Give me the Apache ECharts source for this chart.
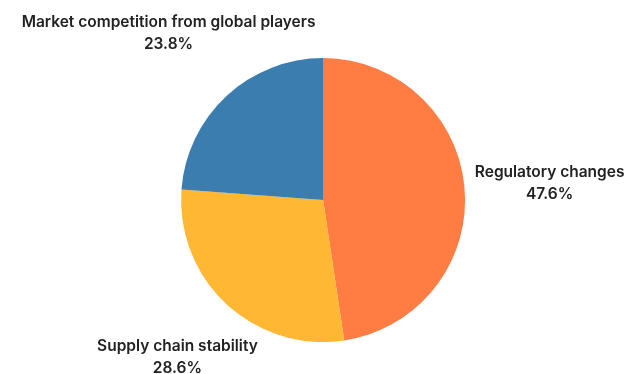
<!DOCTYPE html>
<html lang="en">
<head>
  <meta charset="UTF-8">
  <title>Risk factors</title>
  <script src="https://cdn.jsdelivr.net/npm/echarts@6/dist/echarts.min.js"></script>
  <style>
    html, body { margin: 0; padding: 0; background: #fff; }
  </style>
</head>
<body>
  <div id="main" style="width: 631px; height: 374px"></div>
  <script>
    // data
    const categories = ['Regulatory changes', 'Supply chain stability', 'Market competition from global players']
    const values = [10, 6, 5]
    const colors = ['#FF7C42', '#FFB734', '#3C7DB0']

    const myChart = echarts.init(document.getElementById('main'))
    const R = 142
    const total = values.reduce((a, b) => a + b, 0)

    // mid angle of each slice, clockwise from 12 o'clock
    function midAngle(i) {
      let before = 0
      for (let k = 0; k < i; k++) before += values[k]
      return (before + values[i] / 2) / total * Math.PI * 2
    }

    const option = {
      backgroundColor: '#fff',
      animation: false,
      series: [
        {
          type: 'pie',
          center: ['51.2%', '53.5%'],
          radius: R,
          startAngle: 90,
          clockwise: true,
          silent: true,
          percentPrecision: 1,
          avoidLabelOverlap: false,
          data: categories.map((name, i) => ({
            name: name,
            value: values[i],
            itemStyle: { color: colors[i] }
          })),
          label: {
            show: true,
            position: 'outside',
            formatter: '{b}\n{d}%',
            color: '#222',
            fontFamily: 'Inter',
            fontWeight: 600,
            fontSize: 15.5,
            lineHeight: 22,
            overflow: 'none',
            width: 400
          },
          labelLine: { show: false },
          // labels sit on the slice's middle ray, pulled in if they would leave the canvas
          labelLayout: function (params) {
            const W = myChart.getWidth()
            const H = myChart.getHeight()
            const cx = W * 0.512
            const cy = H * 0.535
            const a = midAngle(params.dataIndex)
            const ux = Math.sin(a)
            const uy = -Math.cos(a)
            let d = R * 1.6
            if (cy + d * uy > H - 17) d = (H - 17 - cy) / uy
            return {
              x: cx + d * ux,
              y: cy + d * uy,
              align: 'center',
              verticalAlign: 'middle'
            }
          }
        }
      ]
    }
    myChart.setOption(option)
  </script>
</body>
</html>
